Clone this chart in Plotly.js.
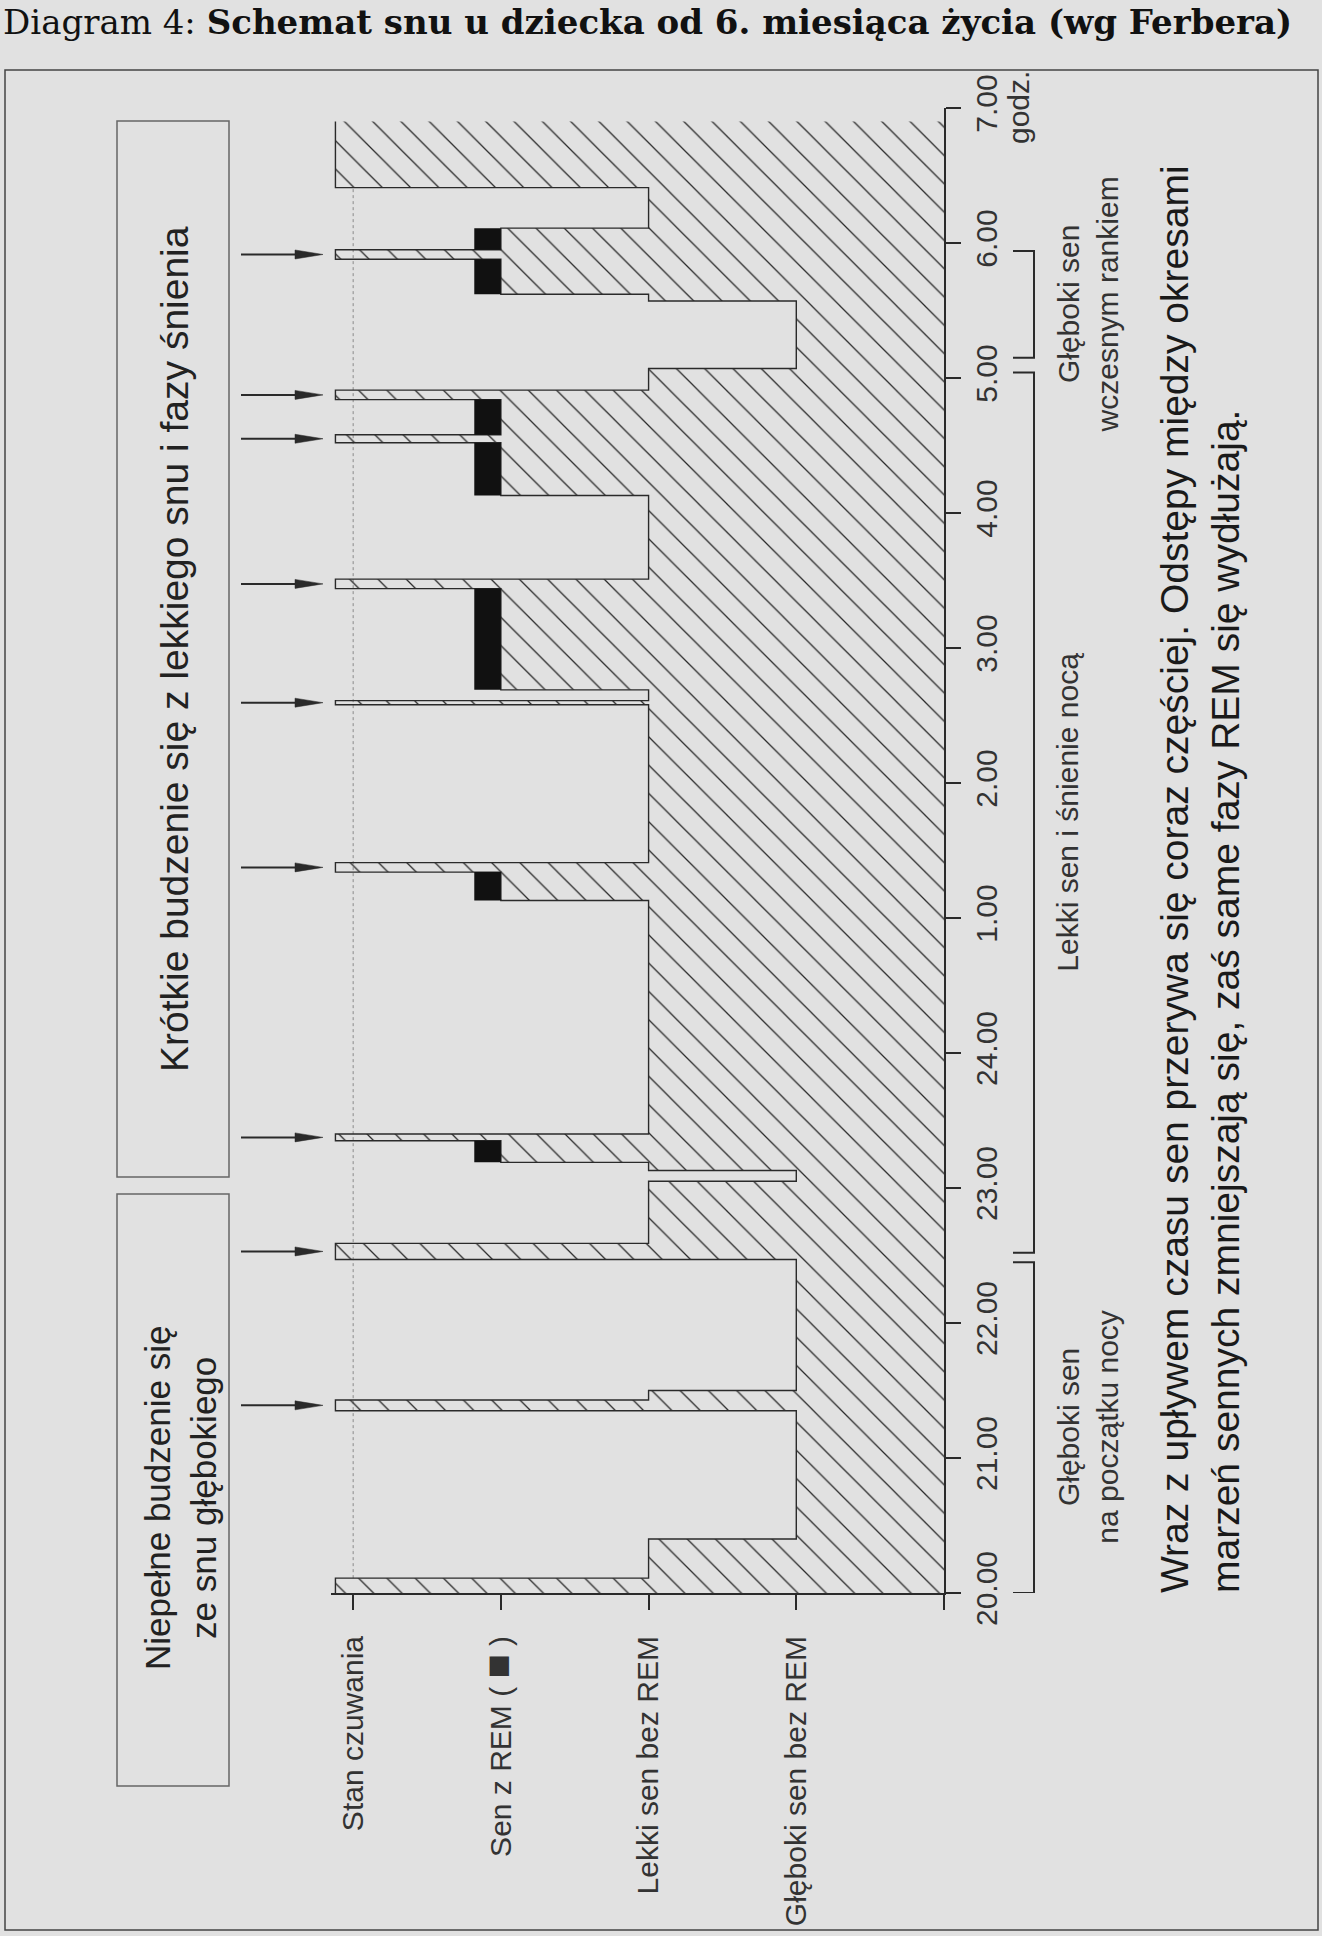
<!DOCTYPE html>
<html><head><meta charset="utf-8">
<script src="https://cdn.plot.ly/plotly-3.0.1.min.js"></script>
<style>html,body{margin:0;padding:0;background:#e1e1e1;} #chart{width:1322px;height:1936px;}</style>
</head><body><div id="chart"></div>
<script>
// ---------------- data ----------------
const stateNames = ['Stan czuwania', 'Sen z REM ( <span style="font-size:40px">\u25A0</span> )', 'Lekki sen bez REM', 'G\u0142\u0119boki sen bez REM'];
const timeTickValues = [20, 21, 22, 23, 24, 25, 26, 27, 28, 29, 30, 31];
const timeTickLabels = ['20.00', '21.00', '22.00', '23.00', '24.00', '1.00', '2.00', '3.00', '4.00', '5.00', '6.00', '7.00'];
const timeUnitLabel = 'godz.';
// sleep phases: start time in hours (24 = midnight, 25 = 1.00 ...) and phase type
const phaseStart = [20.00, 20.11, 20.40, 21.35, 21.43, 21.50, 22.47, 22.59, 23.05, 23.13, 23.19, 23.35, 23.40,
                    25.13, 25.34, 25.41, 26.58, 26.61, 26.69, 27.44, 27.51, 28.13, 28.52, 28.58, 28.84, 28.91,
                    29.07, 29.57, 29.62, 29.88, 29.95, 30.11, 30.41];
const phaseType  = ['wake', 'light', 'deep', 'wake', 'light', 'deep', 'wake', 'light', 'deep', 'light', 'rem', 'wake', 'light',
                    'rem', 'wake', 'light', 'wake', 'light', 'rem', 'wake', 'light', 'rem', 'wake', 'rem', 'wake', 'light',
                    'deep', 'light', 'rem', 'wake', 'rem', 'light', 'wake'];
const recordEnd = 30.90;
// bracketed periods on the right
const periodStart  = [20.00, 22.52, 29.15];
const periodEnd    = [22.45, 29.04, 29.94];
const periodLabels = ['G\u0142\u0119boki sen<br>na pocz\u0105tku nocy', 'Lekki sen i \u015bnienie noc\u0105', 'G\u0142\u0119boki sen<br>wczesnym rankiem'];
// texts
const titleText = 'Diagram 4: <b>Schemat snu u dziecka od 6. miesi\u0105ca \u017cycia (wg Ferbera)</b>';
const box1Text = 'Kr\u00f3tkie budzenie si\u0119 z lekkiego snu i fazy \u015bnienia';
const box2Text = 'Niepe\u0142ne budzenie si\u0119<br>ze snu g\u0142\u0119bokiego';
const noteText = 'Wraz z up\u0142ywem czasu sen przerywa si\u0119 coraz cz\u0119\u015bciej. Odst\u0119py mi\u0119dzy okresami<br>marze\u0144 sennych zmniejszaj\u0105 si\u0119, za\u015b same fazy REM si\u0119 wyd\u0142u\u017caj\u0105.';

// ---------------- layout helpers ----------------
const W = 1322, H = 1936;
const M = {l: 331, r: 378, t: 108, b: 343};
const PW = W - M.l - M.r, PH = H - M.t - M.b;
const px = v => (v - M.l) / PW;          // page pixel x -> paper
const py = v => (H - M.b - v) / PH;      // page pixel y -> paper
const SANS = 'Liberation Sans, Arial, Helvetica, sans-serif';
const INK = '#2a2a2a';
const BG = '#e1e1e1';

const levelOf = {wake: 0, rem: 1, light: 2, deep: 3};
const depthMax = 4;                      // hatch runs to the time axis
const wakeOverhang = 0.12;
const remBlockWidth = 0.18;
const edgeOf = t => t === 'wake' ? levelOf.wake - wakeOverhang : levelOf[t];
const endOf = i => i < phaseStart.length - 1 ? phaseStart[i + 1] : recordEnd;

// step boundary
const stepX = [], stepY = [];
phaseType.forEach((t, i) => {
  stepX.push(edgeOf(t), edgeOf(t));
  stepY.push(phaseStart[i], endOf(i));
});
const hatchX = stepX.concat([depthMax, depthMax]);
const hatchY = stepY.concat([recordEnd, phaseStart[0]]);

// REM blocks
const remX = [], remY = [];
phaseType.forEach((t, i) => {
  if (t !== 'rem') return;
  const a = levelOf.rem - remBlockWidth, b = levelOf.rem;
  remX.push(a, b, b, a, a, null);
  remY.push(phaseStart[i], phaseStart[i], endOf(i), endOf(i), phaseStart[i], null);
});

// brief awakenings (arrows)
const arrowTimes = [];
phaseType.forEach((t, i) => {
  if (t === 'wake' && i > 0 && i < phaseType.length - 1) arrowTimes.push((phaseStart[i] + endOf(i)) / 2);
});

const traces = [
  { // dotted wake reference line
    x: [levelOf.wake, levelOf.wake], y: [phaseStart[1], phaseStart[phaseStart.length - 1]],
    mode: 'lines', line: {color: '#8a8a8a', width: 1, dash: 'dot'}, hoverinfo: 'skip'
  },
  { // hatched sleep area
    x: hatchX, y: hatchY, mode: 'none', fill: 'toself', fillcolor: 'rgba(0,0,0,0)',
    fillpattern: {shape: '\\', size: 20, solidity: 0.065, fgcolor: INK, bgcolor: 'rgba(0,0,0,0)', fillmode: 'replace'},
    hoverinfo: 'skip'
  },
  { // outline
    x: stepX, y: stepY, mode: 'lines', line: {color: INK, width: 1.4, shape: 'linear'}, hoverinfo: 'skip'
  },
  { // REM blocks
    x: remX, y: remY, mode: 'none', fill: 'toself', fillcolor: '#111', hoverinfo: 'skip'
  }
];

const shapes = [];
// frame
shapes.push({type: 'rect', xref: 'paper', yref: 'paper', x0: px(5), x1: px(1318), y0: py(70), y1: py(1930),
             line: {color: '#444', width: 1.5}, layer: 'below'});
// boxes
shapes.push({type: 'rect', xref: 'paper', yref: 'paper', x0: px(117), x1: px(229), y0: py(121), y1: py(1177),
             line: {color: '#666', width: 1.5}});
shapes.push({type: 'rect', xref: 'paper', yref: 'paper', x0: px(117), x1: px(229), y0: py(1194), y1: py(1786),
             line: {color: '#666', width: 1.5}});
// brackets
periodStart.forEach((s, i) => {
  const e = periodEnd[i];
  shapes.push({type: 'path', xref: 'paper', yref: 'y',
    path: `M${px(1013)},${s} L${px(1034)},${s} L${px(1034)},${e} L${px(1013)},${e}`,
    line: {color: INK, width: 2}});
});
// arrows
arrowTimes.forEach(t => {
  shapes.push({type: 'line', xref: 'paper', yref: 'y', x0: px(241), x1: px(300), y0: t, y1: t,
               line: {color: INK, width: 2}});
  shapes.push({type: 'path', xref: 'paper', yref: 'y', xsizemode: 'pixel', ysizemode: 'pixel',
               xanchor: px(323), yanchor: t, path: 'M-28,-4.5 L0,0 L-28,4.5 Z',
               fillcolor: INK, line: {color: INK, width: 0.5}});
});

const annotations = [
  {text: titleText, xref: 'paper', yref: 'paper', x: px(1), y: py(22), xanchor: 'left', yanchor: 'middle',
   showarrow: false, font: {family: 'DejaVu Serif, Liberation Serif, serif', size: 34, color: '#111'}},
  {text: timeUnitLabel, xref: 'paper', yref: 'y', x: px(1018), y: timeTickValues[timeTickValues.length - 1],
   xanchor: 'center', yanchor: 'middle', textangle: -90, showarrow: false, font: {family: SANS, size: 30, color: '#333'}},
  {text: box1Text, xref: 'paper', yref: 'paper', x: px(174), y: py(649), xanchor: 'center', yanchor: 'middle',
   textangle: -90, showarrow: false, font: {family: SANS, size: 39, color: '#222'}},
  {text: box2Text, xref: 'paper', yref: 'paper', x: px(180), y: py(1498), xanchor: 'center', yanchor: 'middle',
   textangle: -90, showarrow: false, align: 'center', font: {family: SANS, size: 35, color: '#222'}},
  {text: noteText, xref: 'paper', yref: 'paper', x: px(1200), y: py(1595), xanchor: 'center', yanchor: 'bottom',
   textangle: -90, showarrow: false, align: 'left', font: {family: SANS, size: 39, color: '#1a1a1a'}}
];
periodLabels.forEach((lab, i) => {
  const two = lab.indexOf('<br>') >= 0;
  annotations.push({text: lab, xref: 'paper', yref: 'y', x: px(two ? 1088 : 1068), y: (periodStart[i] + periodEnd[i]) / 2,
    xanchor: 'center', yanchor: 'middle', textangle: -90, showarrow: false, align: 'center',
    font: {family: SANS, size: 30, color: '#333'}});
});

const layout = {
  width: W, height: H, margin: M, showlegend: false, hovermode: false,
  paper_bgcolor: BG, plot_bgcolor: BG,
  font: {family: SANS, color: '#333'},
  xaxis: {range: [-0.15, depthMax], tickvals: [0, 1, 2, 3, 4], ticktext: stateNames.concat(['']),
          tickangle: -90, ticks: 'outside', ticklen: 15, tickwidth: 2, tickcolor: INK,
          showline: true, linecolor: INK, linewidth: 2, showgrid: false, zeroline: false,
          ticklabelstandoff: 14, tickfont: {family: SANS, size: 30, color: '#333'}, fixedrange: true},
  yaxis: {range: [timeTickValues[0], timeTickValues[timeTickValues.length - 1]], side: 'right',
          tickvals: timeTickValues, ticktext: timeTickLabels,
          tickangle: -90, ticks: 'outside', ticklen: 15, tickwidth: 2, tickcolor: INK,
          showline: true, linecolor: INK, linewidth: 2, showgrid: false, zeroline: false,
          ticklabelstandoff: 0, tickfont: {family: SANS, size: 30, color: '#333'}, fixedrange: true},
  shapes: shapes, annotations: annotations
};

Plotly.newPlot('chart', traces, layout, {staticPlot: true, displayModeBar: false});
</script>
</body></html>
